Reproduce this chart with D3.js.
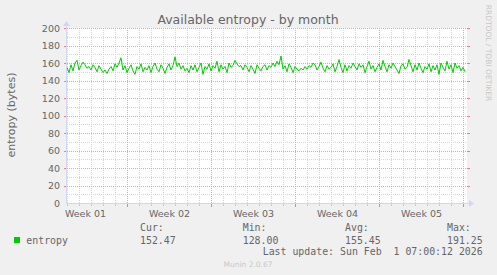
<!DOCTYPE html>
<html>
<head>
<meta charset="utf-8">
<script src="https://cdn.jsdelivr.net/npm/d3@7"></script>
<style>
  html, body { margin: 0; padding: 0; background: #f0f0f0; }
  svg { display: block; }
  text { fill: #666; }
</style>
</head>
<body>
<div id="chart"></div>
<script>
var entropyValues = [
  155, 149, 158, 151, 160, 163, 152, 157, 161, 158, 154, 156, 152, 158, 155, 150, 157, 153, 149, 152,
  148, 153, 156, 151, 159, 155, 160, 166, 152, 157, 149, 154, 158, 151, 147, 156, 153, 159, 150, 155,
  152, 157, 149, 156, 160, 153, 150, 158, 154, 148, 155, 159, 152, 157, 167, 156, 160, 153, 157, 151,
  154, 149, 157, 152, 158, 150, 155, 160, 147, 156, 153, 159, 151, 157, 154, 162, 150, 158, 153, 156,
  149, 160, 155, 157, 163, 159, 156, 157, 152, 158, 155, 150, 157, 153, 148, 158, 154, 151, 156, 158,
  152, 157, 155, 160, 156, 162, 158, 168, 153, 157, 150, 159, 155, 149, 156, 153, 151, 154, 152, 156,
  153, 157, 155, 160, 158, 152, 156, 161, 154, 150, 157, 153, 155, 159, 150, 156, 164, 155, 149, 158,
  151, 157, 154, 160, 156, 152, 159, 155, 158, 149, 156, 162, 153, 157, 150, 155, 159, 152, 163, 156,
  150, 158, 154, 160, 156, 152, 148, 157, 159, 153, 155, 164, 157, 150, 158, 152, 160, 154, 149, 156,
  153, 159, 150, 157, 152, 158, 147, 160, 155, 151, 162, 153, 158, 149, 160, 154, 157, 151, 155, 150
];
var stepHours = 4;
var endTime = Date.UTC(2026, 1, 1, 7, 0, 12);
var spanHours = 800;   // 400 px at 2h per pixel

var yTicks = [0, 20, 40, 60, 80, 100, 120, 140, 160, 180, 200];
var yMinor = [10, 30, 50, 70, 90, 110, 130, 150, 170, 190];

var legendHeaders = ["Cur:", "Min:", "Avg:", "Max:"];
var legendValues = ["152.47", "128.00", "155.45", "191.25"];
var seriesName = "entropy";
var lastUpdate = "Last update: Sun Feb  1 07:00:12 2026";

var W = 497, H = 275;
var X0 = 67, X1 = 467, Y0 = 203, Y1 = 28;

var svg = d3.select("#chart").append("svg")
    .attr("width", W)
    .attr("height", H);

svg.append("rect").attr("width", W).attr("height", H).attr("fill", "#f0f0f0");
svg.append("rect")
    .attr("x", X0).attr("y", Y1)
    .attr("width", X1 - X0).attr("height", Y0 - Y1)
    .attr("fill", "#ffffff");

var startTime = endTime - spanHours * 3600e3;
var x = d3.scaleUtc()
    .domain([new Date(startTime), new Date(endTime)])
    .range([X0, X1]);
var y = d3.scaleLinear()
    .domain([0, 200])
    .range([Y0, Y1]);

var data = entropyValues.map(function (v, i) {
    return { t: new Date(startTime + i * stepHours * 3600e3), v: v };
});

// grid
var px = function (d) { return Math.round(x(d)) + 0.5; };
var py = function (v) { return Math.round(y(v)) + 0.5; };

var days = d3.utcDay.range(new Date(startTime), new Date(endTime));
var weeks = d3.utcSunday.range(new Date(startTime), new Date(endTime));
var weekSet = new Set(weeks.map(function (d) { return +d; }));
var minorDays = days.filter(function (d) { return !weekSet.has(+d); });

var grid = svg.append("g").attr("shape-rendering", "crispEdges");

grid.selectAll(".vminor").data(minorDays).enter().append("line")
    .attr("x1", px).attr("x2", px)
    .attr("y1", Y1).attr("y2", Y0)
    .attr("stroke", "#d6d6d6").attr("stroke-dasharray", "1,1");
grid.selectAll(".hminor").data(yMinor).enter().append("line")
    .attr("x1", X0).attr("x2", X1)
    .attr("y1", py).attr("y2", py)
    .attr("stroke", "#d6d6d6").attr("stroke-dasharray", "1,1");

grid.selectAll(".vmajor").data(weeks).enter().append("line")
    .attr("x1", px).attr("x2", px)
    .attr("y1", Y1).attr("y2", Y0)
    .attr("stroke", "#f2a0a0").attr("stroke-dasharray", "1,1");
grid.selectAll(".hmajor").data(yTicks.slice(1)).enter().append("line")
    .attr("x1", X0).attr("x2", X1)
    .attr("y1", py).attr("y2", py)
    .attr("stroke", "#f2a0a0").attr("stroke-dasharray", "1,1");

// small tick marks round the canvas
grid.selectAll(".tmin").data(minorDays).enter().append("line")
    .attr("x1", px).attr("x2", px)
    .attr("y1", Y0 + 1).attr("y2", Y0 + 3)
    .attr("stroke", "#c8c8c8");
grid.selectAll(".tmaj").data(weeks).enter().append("line")
    .attr("x1", px).attr("x2", px)
    .attr("y1", Y0 + 1).attr("y2", Y0 + 4)
    .attr("stroke", "#f08080");
grid.selectAll(".tyl").data(yTicks.slice(1)).enter().append("line")
    .attr("x1", X0 - 3).attr("x2", X0)
    .attr("y1", py).attr("y2", py)
    .attr("stroke", "#f08080");
grid.selectAll(".tyr").data(yTicks.slice(1)).enter().append("line")
    .attr("x1", X1).attr("x2", X1 + 3)
    .attr("y1", py).attr("y2", py)
    .attr("stroke", "#f08080");

// the series
var line = d3.line()
    .x(function (d) { return x(d.t); })
    .y(function (d) { return y(d.v); });

svg.append("path")
    .datum(data)
    .attr("d", line)
    .attr("fill", "none")
    .attr("stroke", "#00cc00")
    .attr("stroke-width", 1);

// axes + arrows
var axisColor = "#cfd6f8";
svg.append("line")
    .attr("x1", X0 - 0.5).attr("x2", X1 + 3)
    .attr("y1", Y0 + 0.5).attr("y2", Y0 + 0.5)
    .attr("stroke", axisColor);
svg.append("line")
    .attr("x1", X0 - 0.5).attr("x2", X0 - 0.5)
    .attr("y1", Y0 + 0.5).attr("y2", Y1 - 3)
    .attr("stroke", axisColor);
svg.append("path")
    .attr("d", "M" + (X1 + 2) + "," + (Y0 - 3) + "L" + (X1 + 7) + "," + (Y0 + 0.5) + "L" + (X1 + 2) + "," + (Y0 + 4) + "Z")
    .attr("fill", axisColor);
svg.append("path")
    .attr("d", "M" + (X0 - 4) + "," + (Y1 - 2) + "L" + (X0 - 0.5) + "," + (Y1 - 7) + "L" + (X0 + 3) + "," + (Y1 - 2) + "Z")
    .attr("fill", axisColor);

// tick labels
var sans = "'DejaVu Sans', sans-serif";
var mono = "'DejaVu Sans Mono', monospace";

svg.selectAll(".ylab").data(yTicks).enter().append("text")
    .attr("x", X0 - 7)
    .attr("y", function (d) { return y(d) + 3.5; })
    .attr("text-anchor", "end")
    .attr("font-family", sans).attr("font-size", 9.5)
    .text(function (d) { return d; });

var weekLabels = d3.utcSunday.range(d3.utcSunday.floor(new Date(startTime)), new Date(endTime))
    .map(function (d) { return new Date(+d + 3.5 * 86400e3); })
    .filter(function (d) { return d > startTime && d < endTime; });
var fmtWeek = d3.utcFormat("Week %V");

svg.selectAll(".xlab").data(weekLabels).enter().append("text")
    .attr("x", function (d) { return x(d); })
    .attr("y", 217)
    .attr("text-anchor", "middle")
    .attr("font-family", sans).attr("font-size", 9.5)
    .text(fmtWeek);

// title, unit, watermark
svg.append("text")
    .attr("x", 248).attr("y", 23.5)
    .attr("text-anchor", "middle")
    .attr("font-family", sans).attr("font-size", 12.5)
    .text("Available entropy - by month");

svg.append("text")
    .attr("transform", "translate(15,115) rotate(-90)")
    .attr("text-anchor", "middle")
    .attr("font-family", sans).attr("font-size", 11)
    .text("entropy (bytes)");

svg.append("text")
    .attr("transform", "translate(485.5,53) rotate(90)")
    .attr("text-anchor", "middle")
    .attr("font-family", sans).attr("font-size", 7.5)
    .style("fill", "#c8c8c8")
    .text("RRDTOOL / TOBI OETIKER");

// legend
var colX = [140, 242.7, 345, 447];
svg.selectAll(".lh").data(legendHeaders).enter().append("text")
    .attr("x", function (d, i) { return colX[i]; })
    .attr("y", 231)
    .attr("font-family", mono).attr("font-size", 9.9)
    .text(function (d) { return d; });
svg.selectAll(".lv").data(legendValues).enter().append("text")
    .attr("x", function (d, i) { return colX[i]; })
    .attr("y", 243.5)
    .attr("font-family", mono).attr("font-size", 9.9)
    .text(function (d) { return d; });

svg.append("rect")
    .attr("x", 14).attr("y", 237)
    .attr("width", 6).attr("height", 6)
    .attr("fill", "#00cc00");
svg.append("text")
    .attr("x", 26.3).attr("y", 243.5)
    .attr("font-family", mono).attr("font-size", 9.9)
    .text(seriesName);

svg.append("text")
    .attr("x", 482.7).attr("y", 255)
    .attr("text-anchor", "end")
    .attr("font-family", mono).attr("font-size", 9.9)
    .attr("xml:space", "preserve")
    .style("white-space", "pre")
    .text(lastUpdate);

svg.append("text")
    .attr("x", 248).attr("y", 267)
    .attr("text-anchor", "middle")
    .attr("font-family", sans).attr("font-size", 7.5)
    .style("fill", "#c8c8c8")
    .text("Munin 2.0.67");
</script>
</body>
</html>
